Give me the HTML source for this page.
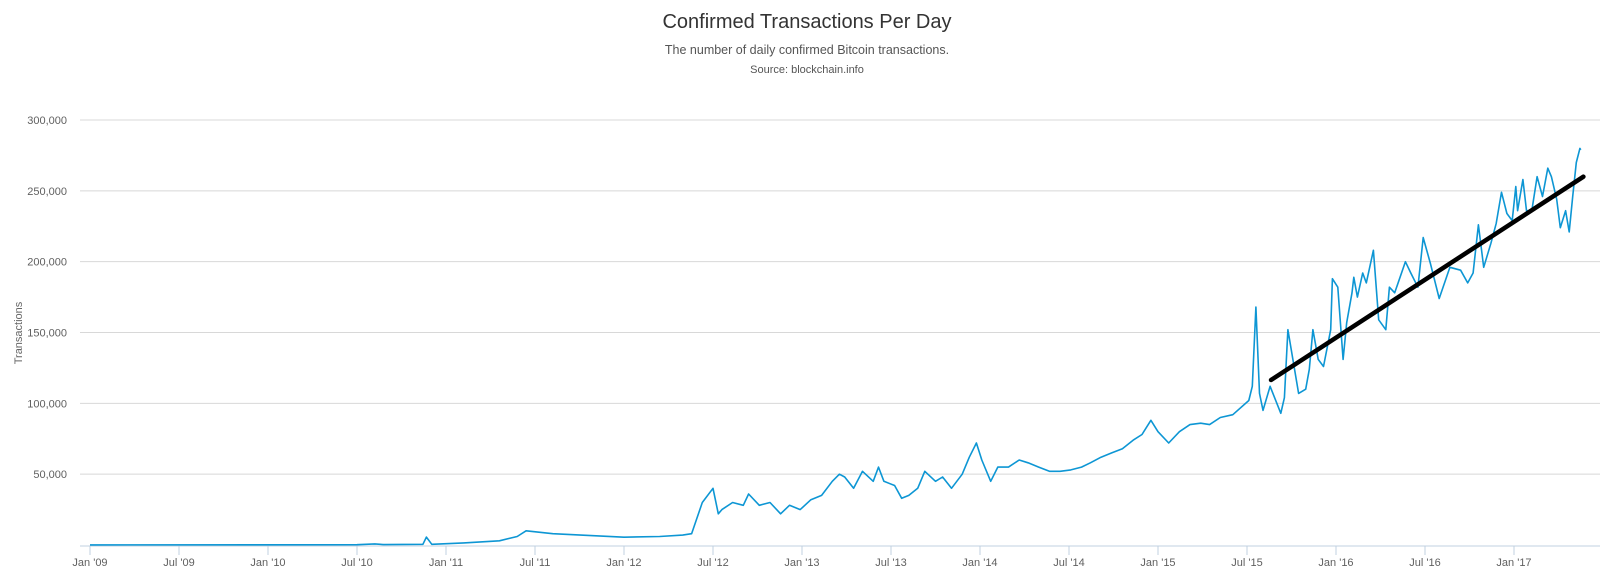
<!DOCTYPE html>
<html><head><meta charset="utf-8"><style>
html,body{margin:0;padding:0;background:#fff;}
svg{display:block;font-family:"Liberation Sans",sans-serif;}
</style></head><body>
<svg id="chart" width="1600" height="576" viewBox="0 0 1600 576" xmlns="http://www.w3.org/2000/svg">
<text x="807" y="28" text-anchor="middle" font-size="20" fill="#333">Confirmed Transactions Per Day</text>
<text x="807" y="54" text-anchor="middle" font-size="12.5" fill="#555">The number of daily confirmed Bitcoin transactions.</text>
<text x="807" y="73" text-anchor="middle" font-size="11" fill="#555">Source: blockchain.info</text>
<text transform="translate(22,333) rotate(-90)" text-anchor="middle" font-size="11" fill="#666">Transactions</text>
<g id="grid"></g><g id="xaxis"></g><g id="series"></g>
</svg>
<script>
const yTicks=[50000,100000,150000,200000,250000,300000];
const yTickLabels=["50,000","100,000","150,000","200,000","250,000","300,000"];
const xTicks=[2009,2009.5,2010,2010.5,2011,2011.5,2012,2012.5,2013,2013.5,2014,2014.5,2015,2015.5,2016,2016.5,2017];
const xTickLabels=["Jan '09","Jul '09","Jan '10","Jul '10","Jan '11","Jul '11","Jan '12","Jul '12","Jan '13","Jul '13","Jan '14","Jul '14","Jan '15","Jul '15","Jan '16","Jul '16","Jan '17"];
const dates=[2009.0,2010.5,2010.6,2010.65,2010.87,2010.89,2010.92,2011.1,2011.3,2011.4,2011.45,2011.6,2012.0,2012.2,2012.33,
2012.38,2012.44,2012.50,2012.53,2012.55,2012.61,2012.67,2012.70,2012.76,2012.82,2012.88,2012.93,2012.99,2013.05,2013.11,2013.17,2013.21,2013.24,2013.29,2013.34,2013.40,2013.43,2013.46,2013.52,2013.56,2013.60,2013.65,2013.69,2013.75,2013.79,2013.84,2013.90,2013.94,2013.98,2014.01,2014.06,2014.10,2014.16,2014.22,2014.27,2014.33,2014.39,2014.45,2014.51,2014.57,2014.62,2014.68,2014.74,2014.80,2014.86,2014.91,2014.96,2015.00,2015.06,2015.12,2015.18,2015.24,2015.29,2015.35,
2015.42,2015.51,2015.53,2015.55,2015.57,2015.59,2015.63,2015.69,2015.71,2015.73,2015.79,2015.83,2015.85,2015.87,2015.90,2015.93,2015.97,2015.98,2016.01,2016.04,2016.06,2016.09,2016.10,2016.12,2016.15,2016.17,2016.21,2016.24,2016.28,2016.30,2016.33,2016.39,2016.42,2016.46,2016.49,2016.53,2016.58,2016.64,2016.70,2016.74,2016.77,2016.80,2016.83,2016.87,2016.90,2016.93,2016.96,2016.99,2017.01,2017.02,2017.05,2017.07,2017.10,2017.13,2017.16,2017.19,2017.21,2017.24,2017.26,2017.29,2017.31,2017.33,2017.35,2017.37,2017.375];
const values=[0.1,0.2,0.8,0.3,0.5,5.6,0.5,1.5,3,6,10,8,5.5,6,7,
8,30,40,22,25,30,28,36,28,30,22,28,25,32,35,45,50,48,40,52,45,55,45,42,33,35,40,52,45,48,40,50,62,72,60,45,55,55,60,58,55,52,52,53,55,58,62,65,68,74,78,88,80,72,80,85,86,85,90,92,
102,112,168,107,95,112,93,104,152,107,110,124,152,131,126,152,188,182,131,157,178,189,175,192,185,208,159,152,182,178,200,192,182,217,199,174,196,194,185,192,226,196,213,227,249,234,229,253,236,258,236,236,260,246,266,260,244,224,236,221,246,270,280,279,267];
const trendDates=[2015.635,2017.39];
const trendValues=[116.5,260];
const NS="http://www.w3.org/2000/svg";
function xs(t){return 90+(t-2009)*178;}
function ys(v){return 545-v/50000*70.83;}
const grid=document.getElementById('grid'),xa=document.getElementById('xaxis'),se=document.getElementById('series');
function mk(tag,attrs,parent){const e=document.createElementNS(NS,tag);for(const k in attrs)e.setAttribute(k,attrs[k]);parent.appendChild(e);return e;}
yTicks.forEach((v,i)=>{
  const l=mk('line',{x1:80,x2:1600,y1:ys(v),y2:ys(v),stroke:'#D8D8D8','stroke-width':1},grid);
  
  
  const t=mk('text',{x:67,y:ys(v)+4,'text-anchor':'end','font-size':11,fill:'#606060'},grid);
  t.textContent=yTickLabels[i];
  
  
});
const ax=mk('line',{x1:80,x2:1600,y1:546,y2:546,stroke:'#C0D0E0','stroke-width':1},xa);


xTicks.forEach((t,i)=>{
  const tk=mk('line',{x1:xs(t),x2:xs(t),y1:546,y2:555,stroke:'#C0D0E0','stroke-width':1},xa);
  
  
  const lb=mk('text',{x:xs(t),y:566,'text-anchor':'middle','font-size':11,fill:'#606060'},xa);
  lb.textContent=xTickLabels[i];
  
  
});
let d='';
dates.forEach((t,i)=>{d+=(i?'L':'M')+xs(t).toFixed(1)+','+ys(values[i]*1000).toFixed(1);});
const p=mk('path',{d:d,fill:'none',stroke:'#0D96D4','stroke-width':1.6,'stroke-linejoin':'round'},se);


const tr=mk('line',{x1:xs(trendDates[0]),y1:ys(trendValues[0]*1000),x2:xs(trendDates[1]),y2:ys(trendValues[1]*1000),stroke:'#000','stroke-width':4.5,'stroke-linecap':'round'},se);


</script>
</body></html>
